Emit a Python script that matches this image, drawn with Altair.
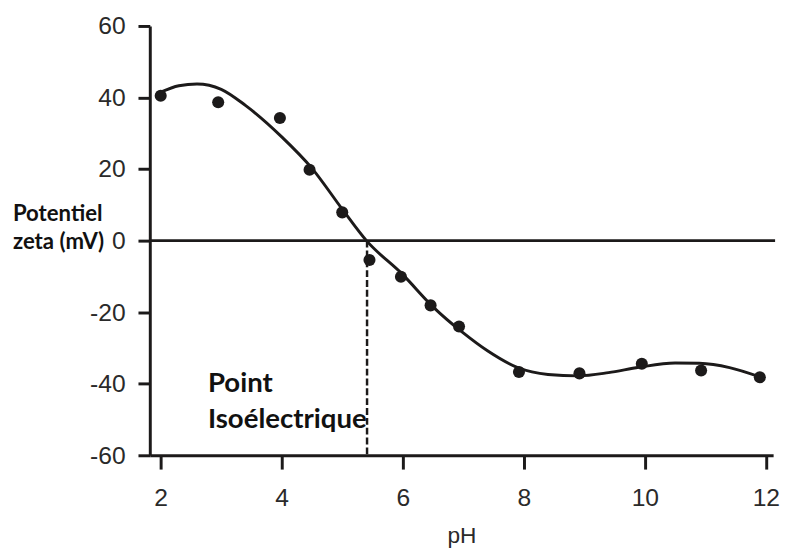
import altair as alt
import pandas as pd

# Measured points (pH, zeta potential in mV)
ph_points = [2.0, 2.95, 3.97, 4.46, 5.0, 5.45, 5.97, 6.46, 6.93, 7.92, 8.92, 9.95, 10.93, 11.9]
zeta_points = [40.5, 38.7, 34.3, 19.8, 7.9, -5.4, -10.1, -18.1, -24.0, -36.7, -37.1, -34.4, -36.3, -38.2]

# Fitted curve
ph_curve = [2.0, 2.3, 2.6, 3.0, 3.4, 4.0, 4.5, 5.0, 5.4, 6.0, 6.5, 7.0, 7.4, 7.9, 8.4, 8.9, 9.4, 9.9, 10.5, 10.9, 11.4, 11.9]
zeta_curve = [41.5, 43.3, 43.8, 42.3, 37.8, 29.0, 20.2, 8.8, 0.0, -9.5, -18.5, -25.8, -30.8, -35.5, -37.4, -37.8, -36.9, -35.4, -34.2, -34.3, -35.5, -38.1]

iep_ph = [5.41]
x_ticks = [2, 4, 6, 8, 10, 12]
y_ticks = [-60, -40, -20, 0, 20, 40, 60]
annot_lines = ["Point", "Isoélectrique"]
annot_x = [2.78, 2.78]
annot_y = [-40.1, -50.3]
ylabel_lines = ["Potentiel", "zeta (mV)"]

W, H = 633, 436
INK = "#1c1a1a"
LABEL = "#2a2a2a"

pts = pd.DataFrame({"ph": ph_points, "zeta": zeta_points})
curve = pd.DataFrame({"ph": ph_curve, "zeta": zeta_curve})
iep = pd.DataFrame({"ph": iep_ph, "top": [0], "bottom": [-60]})
annot = pd.DataFrame({"txt": annot_lines, "ph": annot_x, "zeta": annot_y})
ylab = pd.DataFrame({"txt": ylabel_lines, "py": [191, 219]})

xs = alt.Scale(domain=[1.82, 12.12], nice=False, zero=False)
ys = alt.Scale(domain=[-60, 60], nice=False)

xaxis = alt.Axis(values=x_ticks, grid=False, domainColor=INK, domainWidth=3,
                 tickColor=INK, tickWidth=3, tickSize=14, labelFont="Liberation Sans",
                 labelFontSize=25, labelColor=LABEL, labelPadding=17,
                 labelExpr="toString(datum.value)",
                 title="pH", titleFont="Liberation Sans", titleFontSize=23,
                 titleFontWeight="normal", titleColor=LABEL, titlePadding=15)
yaxis = alt.Axis(values=y_ticks, grid=False, domainColor=INK, domainWidth=3,
                 tickColor=INK, tickWidth=3, tickSize=12, labelFont="Liberation Sans",
                 labelFontSize=25, labelColor=LABEL, labelPadding=13,
                 labelExpr="toString(datum.value)", title=None)

base = alt.Chart(pts)

points = base.mark_circle(size=150, color=INK, opacity=1).encode(
    x=alt.X("ph:Q", scale=xs, axis=xaxis),
    y=alt.Y("zeta:Q", scale=ys, axis=yaxis),
)

line = alt.Chart(curve).mark_line(color=INK, strokeWidth=3, interpolate="monotone").encode(
    x=alt.X("ph:Q", scale=xs), y=alt.Y("zeta:Q", scale=ys)
)

zero = alt.Chart(pd.DataFrame({"z": [0]})).mark_rule(color=INK, strokeWidth=3).encode(
    y=alt.Y("z:Q", scale=ys), x=alt.value(0), x2=alt.value(W + 2)
)

dash = alt.Chart(iep).mark_rule(color=INK, strokeWidth=2.5, strokeDash=[7, 3]).encode(
    x=alt.X("ph:Q", scale=xs), y=alt.Y("top:Q", scale=ys), y2="bottom:Q"
)

annot_text = alt.Chart(annot).mark_text(align="left", baseline="middle", font="Lato",
                                         fontWeight="bold", fontSize=28, color="#111").encode(
    x=alt.X("ph:Q", scale=xs), y=alt.Y("zeta:Q", scale=ys), text="txt:N"
)

ylab_text = alt.Chart(ylab).mark_text(align="left", baseline="middle", font="Lato",
                                       fontWeight="bold", fontSize=22.5, color="#111").encode(
    x=alt.value(-139), y=alt.Y("py:Q", scale=None), text="txt:N"
)

chart = alt.layer(zero, dash, line, points, annot_text, ylab_text).properties(
    width=W, height=H,
    autosize=alt.AutoSizeParams(type="none"),
    padding={"left": 144, "top": 14, "right": 8, "bottom": 96},
).configure_view(stroke=None)

chart.save("out.html", embed_options={"renderer": "svg", "actions": False})
